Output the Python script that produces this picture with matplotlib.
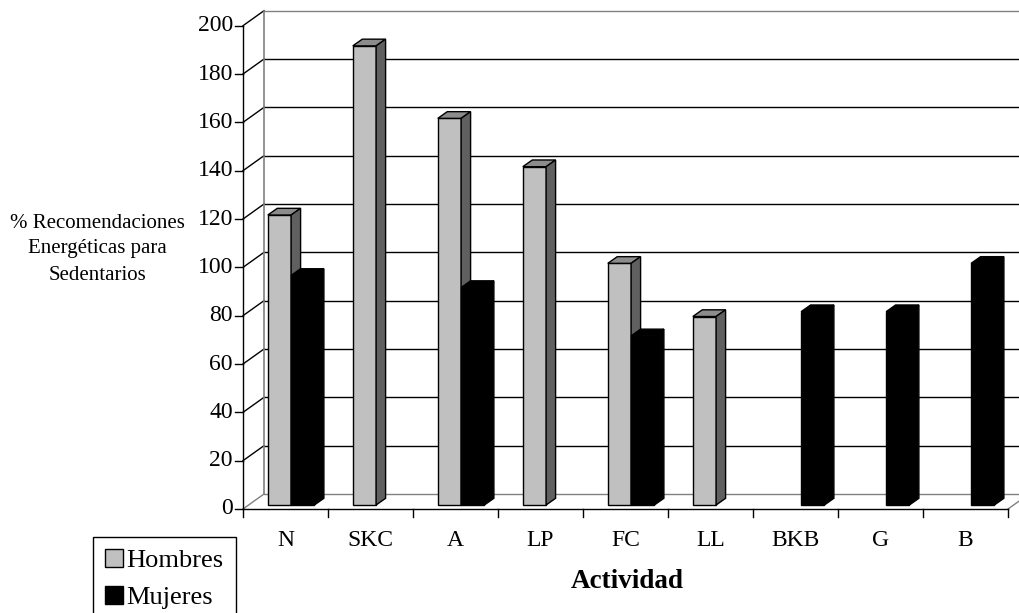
import numpy as np
import matplotlib.pyplot as plt
from matplotlib.patches import Polygon, Patch

# data
actividades = ["N", "SKC", "A", "LP", "FC", "LL", "BKB", "G", "B"]
hombres = [120, 190, 160, 140, 100, 78, np.nan, np.nan, np.nan]
mujeres = [95, np.nan, 90, np.nan, 70, np.nan, 80, 80, 100]
yticks = np.arange(0, 201, 20)

plt.rcParams["font.family"] = ["Liberation Serif", "DejaVu Serif"]

W, H = 1019, 613
fig = plt.figure(figsize=(W / 100, H / 100), dpi=100)
ax = fig.add_axes([0, 0, 1, 1])
ax.axis("off")

# pixel layout of the fake 3d frame
X0, XS = 243, 85.0       # left of the front plane, px per category
Y0, YS = 509, 2.4165     # zero line, px per unit
ax.set_xlim(-X0 / XS, (W - X0) / XS)
ax.set_ylim((Y0 - H) / YS, Y0 / YS)

wdx, wdy = 21 / XS, 15 / YS        # depth of the whole box
bdx, bdy = 5.6 / XS, 4 / YS        # bars front plane
ddx, ddy = 9.5 / XS, 6.7 / YS      # bar depth
bw = 23.3 / XS
n = len(actividades)
ymax = yticks[-1]
xr = (W - X0) / XS + 1

# walls and gridlines
for v in yticks:
    col = "#808080" if v in (0, ymax) else "black"
    ax.plot([wdx, xr], [v + wdy, v + wdy], color=col, lw=1, zorder=1)
    ax.plot([0, wdx], [v, v + wdy], color="black" if v else "#808080", lw=1, zorder=1)
    ax.plot([-8 / XS, 0], [v, v], color="black", lw=1, zorder=1)
    ax.text(-10 / XS, v, str(v), ha="right", va="center", fontsize=17)
ax.plot([wdx, wdx], [wdy, ymax + wdy], color="#808080", lw=1.2, zorder=1)
ax.plot([0, 0], [0, ymax], color="black", lw=1, zorder=2)
ax.plot([0, n], [0, 0], color="black", lw=1, zorder=2)
ax.plot([n, n + wdx], [0, wdy], color="#808080", lw=1, zorder=1)
for i in range(n + 1):
    ax.plot([i, i], [0, -8 / YS], color="black", lw=1, zorder=2)
for i, lab in enumerate(actividades):
    ax.text(i + 0.5, -32 / YS, lab, ha="center", va="center", fontsize=17)


def bar3d(left, val, front, side, top, z):
    if np.isnan(val):
        return
    ax.bar(left, val, width=bw, bottom=bdy, align="edge", color=front,
           edgecolor="black", lw=1, zorder=z)
    t = bdy + val
    ax.add_patch(Polygon([(left, t), (left + bw, t), (left + bw + ddx, t + ddy),
                          (left + ddx, t + ddy)], closed=True, facecolor=top,
                         edgecolor="black", lw=1, zorder=z))
    ax.add_patch(Polygon([(left + bw, bdy), (left + bw + ddx, bdy + ddy),
                          (left + bw + ddx, t + ddy), (left + bw, t)], closed=True,
                         facecolor=side, edgecolor="black", lw=1, zorder=z))


for i in range(n):
    c = i + 0.5 + bdx
    bar3d(c - bw, hombres[i], "#c0c0c0", "#606060", "#8c8c8c", 10 + 2 * i)
    bar3d(c, mujeres[i], "black", "black", "black", 11 + 2 * i)

fig.text(97 / W, 1 - 249 / H, "% Recomendaciones\nEnergéticas para\nSedentarios",
         fontsize=15, ha="center", va="center", linespacing=1.5)
fig.text(627 / W, 1 - 582 / H, "Actividad", fontsize=19.5, fontweight="bold",
         ha="center", va="center")

handles = [Patch(facecolor="#c0c0c0", edgecolor="black", label="Hombres"),
           Patch(facecolor="black", edgecolor="black", label="Mujeres")]
leg = fig.legend(handles=handles, loc="upper left",
                 bbox_to_anchor=(93 / W, 1 - 537 / H), bbox_transform=fig.transFigure,
                 fontsize=19, frameon=True, fancybox=False, edgecolor="black",
                 handlelength=0.7, handleheight=0.7, handletextpad=0.12,
                 labelspacing=0.5, borderpad=0.45, borderaxespad=0, framealpha=1)
leg.get_frame().set_linewidth(1)

plt.savefig("out.png", dpi=100)
